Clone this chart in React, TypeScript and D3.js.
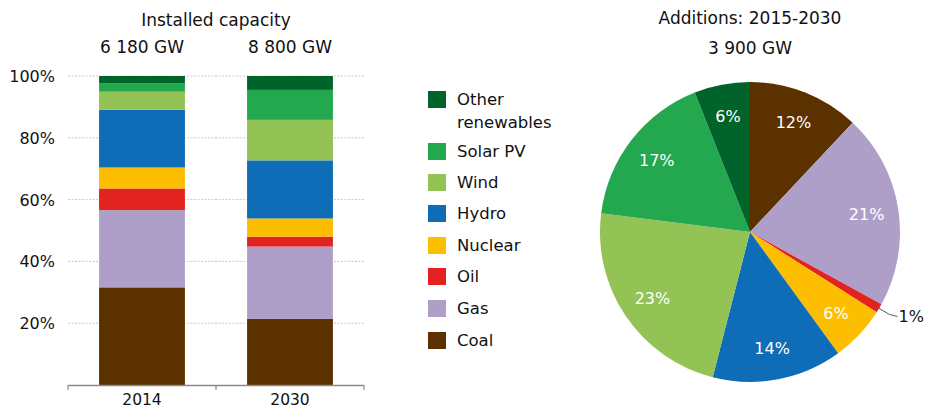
import React from "react";
import * as d3 from "d3";

const categories = ["Coal", "Gas", "Oil", "Nuclear", "Hydro", "Wind", "Solar PV", "Other renewables"];
const colors = ["#5c3100", "#ae9fc9", "#e3231f", "#fdbe00", "#0f6cb6", "#93c255", "#23a84f", "#00632a"];
const years = ["2014", "2030"];
const totals = ["6 180 GW", "8 800 GW"];
const share2014 = [31.6, 25, 7, 6.8, 18.7, 5.8, 2.8, 2.3];
const share2030 = [21.4, 23.4, 3.2, 5.9, 18.8, 13.1, 9.7, 4.5];
const additions = [12, 21, 1, 6, 14, 23, 17, 6];
const yTicks = [20, 40, 60, 80, 100];
const legendOrder = ["Other renewables", "Solar PV", "Wind", "Hydro", "Nuclear", "Oil", "Gas", "Coal"];

const FONT = "'DejaVu Sans', sans-serif";

export default function App() {
  const W = 926, H = 411;
  const y = d3.scaleLinear().domain([0, 100]).range([385, 76]);
  const x = d3.scaleBand().domain(years).range([68, 364]).paddingInner(0.42).paddingOuter(0.21);
  const series = [share2014, share2030];
  const stacks = series.map((vals) => {
    let acc = 0;
    return vals.map((v, i) => {
      const s = { cat: categories[i], y0: acc, y1: acc + v, color: colors[i] };
      acc += v;
      return s;
    });
  });

  const cx = 750, cy = 232, R = 150;
  const pie = d3.pie<number>().sort(null).value((d) => d)(additions);
  const arc = d3.arc<d3.PieArcDatum<number>>().innerRadius(0).outerRadius(R);
  const labelArc = d3.arc<d3.PieArcDatum<number>>().innerRadius(118).outerRadius(118);

  const legendY = [99, 151, 182, 213, 245, 276, 308, 340];

  return (
    <svg width={W} height={H} style={{ position: "absolute", left: 0, top: 0, background: "#fff" }} fontFamily={FONT}>
      {/* Left chart titles */}
      <text x={216} y={26} textAnchor="middle" fontSize={17} fill="#111">Installed capacity</text>
      {years.map((yr, i) => (
        <text key={yr} x={(x(yr) as number) + x.bandwidth() / 2} y={53} textAnchor="middle" fontSize={17} fill="#111">{totals[i]}</text>
      ))}
      {/* gridlines */}
      {yTicks.map((t) => (
        <g key={t}>
          <line x1={68} x2={364} y1={y(t)} y2={y(t)} stroke="#c8c8c8" strokeWidth={1} strokeDasharray="2,1.5" />
          <text x={55} y={y(t) + 6} textAnchor="end" fontSize={16} fill="#111">{t}%</text>
        </g>
      ))}
      {/* bars */}
      {stacks.map((st, i) => (
        <g key={i}>
          {st.map((s) => (
            <rect key={s.cat} x={x(years[i])} width={x.bandwidth()} y={y(s.y1)} height={y(s.y0) - y(s.y1)} fill={s.color} />
          ))}
        </g>
      ))}
      {/* axis */}
      <line x1={68} x2={364} y1={385.5} y2={385.5} stroke="#8a8a8a" strokeWidth={1.5} />
      {[68, 216, 364].map((tx) => (
        <line key={tx} x1={tx} x2={tx} y1={385} y2={390} stroke="#8a8a8a" strokeWidth={1.2} />
      ))}
      {years.map((yr) => (
        <text key={yr} x={(x(yr) as number) + x.bandwidth() / 2} y={405} textAnchor="middle" fontSize={15.5} fill="#111">{yr}</text>
      ))}

      {/* legend */}
      {legendOrder.map((name, i) => {
        const ci = categories.indexOf(name);
        const ly = legendY[i];
        return (
          <g key={name}>
            <rect x={428} y={ly - 8} width={18} height={17} fill={colors[ci]} />
            {name === "Other renewables" ? (
              <text x={457} y={ly + 6} fontSize={16.5} fill="#111">
                <tspan x={457}>Other</tspan>
                <tspan x={457} dy={23}>renewables</tspan>
              </text>
            ) : (
              <text x={457} y={ly + 6} fontSize={16.5} fill="#111">{name}</text>
            )}
          </g>
        );
      })}

      {/* pie */}
      <text x={cx} y={24} textAnchor="middle" fontSize={17} fill="#111">Additions: 2015-2030</text>
      <text x={cx} y={54} textAnchor="middle" fontSize={17} fill="#111">3 900 GW</text>
      <g transform={`translate(${cx},${cy})`}>
        {pie.map((p, i) => (
          <path key={i} d={arc(p) as string} fill={colors[i]} />
        ))}
        {pie.map((p, i) => {
          if (additions[i] < 3) return null;
          const [lx, ly] = labelArc.centroid(p);
          return (
            <text key={"l" + i} x={lx} y={ly + 6} textAnchor="middle" fontSize={16} fill="#fff">{additions[i]}%</text>
          );
        })}
        {pie.map((p, i) => {
          if (additions[i] >= 3) return null;
          const a = (p.startAngle + p.endAngle) / 2;
          const r1 = R - 2, r2 = R + 12;
          const x1 = Math.sin(a) * r1, y1 = -Math.cos(a) * r1;
          const x2 = Math.sin(a) * r2, y2 = -Math.cos(a) * r2;
          return (
            <g key={"o" + i}>
              <path d={`M${x1},${y1} L${x2},${y2} L${x2 + 8},${y2 + 2}`} fill="none" stroke="#555" strokeWidth={1} />
              <text x={x2 + 9} y={y2 + 8} fontSize={16} fill="#111">{additions[i]}%</text>
            </g>
          );
        })}
      </g>
    </svg>
  );
}
